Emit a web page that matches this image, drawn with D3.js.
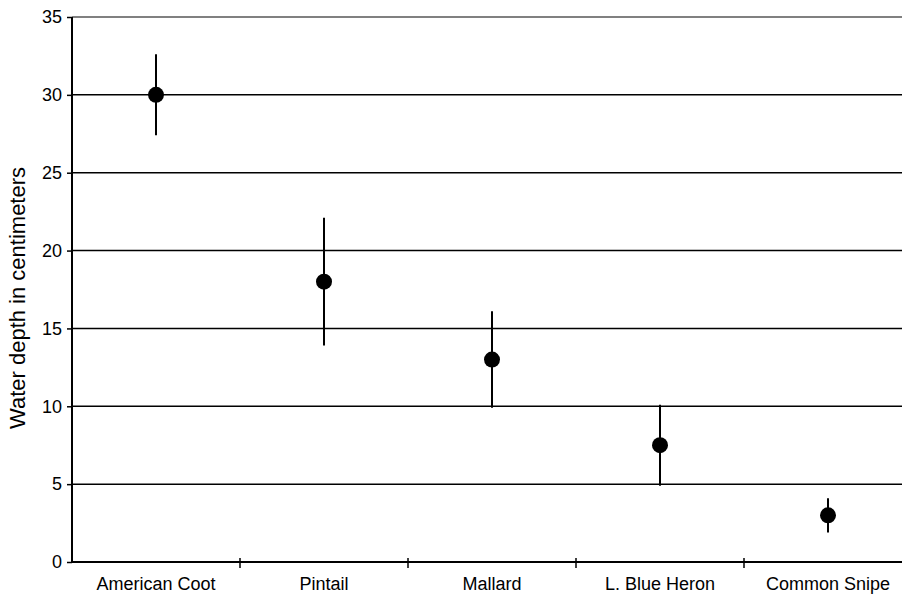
<!DOCTYPE html>
<html>
<head>
<meta charset="utf-8">
<script src="https://cdn.jsdelivr.net/npm/d3@7"></script>
<style>
  body { margin: 0; background: #fff; }
  svg { display: block; font-family: "Liberation Sans", Arial, sans-serif; }
</style>
</head>
<body>
<svg id="chart" width="902" height="597"></svg>
<script>
// species and water depth (cm): mean with low/high range
const species = ["American Coot", "Pintail", "Mallard", "L. Blue Heron", "Common Snipe"];
const means = [30, 18, 13, 7.5, 3];
const lows = [27.4, 13.9, 9.9, 4.9, 1.9];
const highs = [32.6, 22.1, 16.1, 10.1, 4.1];
const yTicks = [0, 5, 10, 15, 20, 25, 30, 35];

const svg = d3.select("#chart");
const plotLeft = 72, plotRight = 912, plotTop = 17, plotBottom = 562;

const x = d3.scaleBand().domain(species).range([plotLeft, plotRight]);
const y = d3.scaleLinear().domain([0, 35]).range([plotBottom, plotTop]);

// gridlines
svg.append("g").selectAll("line").data(yTicks.filter(t => t > 0))
  .enter().append("line")
    .attr("x1", plotLeft).attr("x2", 902)
    .attr("y1", d => y(d)).attr("y2", d => y(d))
    .attr("stroke", d => d === 35 ? "#808080" : "#000")
    .attr("stroke-width", d => d === 35 ? 2 : 1.5);

// y axis
const yAxis = svg.append("g")
  .attr("transform", `translate(${plotLeft},0)`)
  .call(d3.axisLeft(y).tickValues(yTicks).tickSize(5).tickPadding(5));
yAxis.select(".domain").remove();
yAxis.append("line").attr("x1", 0).attr("x2", 0).attr("y1", y(35)).attr("y2", y(0) + 1)
  .attr("stroke", "#000").attr("stroke-width", 2);
yAxis.selectAll(".tick line").attr("stroke", "#000").attr("stroke-width", 1.5);
yAxis.selectAll(".tick text").attr("font-size", 18).attr("fill", "#000")
  .attr("font-family", "Liberation Sans, Arial, sans-serif");

// x axis baseline with ticks at band boundaries
const xg = svg.append("g");
xg.append("line").attr("x1", plotLeft).attr("x2", 902).attr("y1", y(0)).attr("y2", y(0))
  .attr("stroke", "#000").attr("stroke-width", 2);
xg.selectAll(".xt").data(species.slice(1)).enter().append("line")
  .attr("class", "xt")
  .attr("x1", d => x(d)).attr("x2", d => x(d))
  .attr("y1", y(0) - 4).attr("y2", y(0) + 6)
  .attr("stroke", "#000").attr("stroke-width", 1.5);
xg.selectAll(".xl").data(species).enter().append("text")
  .attr("class", "xl")
  .attr("x", d => x(d) + x.bandwidth() / 2)
  .attr("y", 590)
  .attr("text-anchor", "middle")
  .attr("font-size", 18)
  .text(d => d);

// y axis title
svg.append("text")
  .attr("transform", "translate(25,298) rotate(-90)")
  .attr("text-anchor", "middle")
  .attr("font-size", 22)
  .text("Water depth in centimeters");

// error bars and points
const cx = i => x(species[i]) + x.bandwidth() / 2;
svg.append("g").selectAll("line").data(means)
  .enter().append("line")
    .attr("x1", (d, i) => cx(i)).attr("x2", (d, i) => cx(i))
    .attr("y1", (d, i) => y(highs[i])).attr("y2", (d, i) => y(lows[i]))
    .attr("stroke", "#000").attr("stroke-width", 2);
svg.append("g").selectAll("circle").data(means)
  .enter().append("circle")
    .attr("cx", (d, i) => cx(i))
    .attr("cy", d => y(d))
    .attr("r", 8)
    .attr("fill", "#000");
</script>
</body>
</html>
